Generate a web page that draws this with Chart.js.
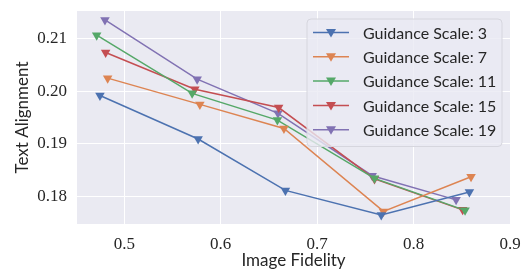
<!DOCTYPE html>
<html>
<head>
<meta charset="utf-8">
<script src="https://cdn.jsdelivr.net/npm/chart.js@4"></script>
<style>
  html, body { margin: 0; padding: 0; background: #fff; }
  #wrap { width: 526px; height: 273px; }
</style>
</head>
<body>
<div id="wrap"><canvas id="chart" width="526" height="273"></canvas></div>
<script>
// guidance scales and the measured (fidelity, alignment) points for each
var guidance = [3, 7, 11, 15, 19];
var fid_3  = [0.4748, 0.5766, 0.6671, 0.7665, 0.8579];
var ali_3  = [0.1992, 0.1909, 0.1811, 0.1764, 0.1808];
var fid_7  = [0.4828, 0.5784, 0.6656, 0.7688, 0.8596];
var ali_7  = [0.2025, 0.1975, 0.1929, 0.1771, 0.1837];
var fid_11 = [0.4714, 0.5704, 0.6588, 0.7595, 0.8534];
var ali_11 = [0.2107, 0.1996, 0.1945, 0.1834, 0.1773];
var fid_15 = [0.4807, 0.5732, 0.6601, 0.7595, 0.8509];
var ali_15 = [0.2074, 0.2004, 0.1969, 0.1833, 0.1774];
var fid_19 = [0.4800, 0.5756, 0.6594, 0.7571, 0.8441];
var ali_19 = [0.2136, 0.2023, 0.1958, 0.1839, 0.1793];

var xTicks = [0.5, 0.6, 0.7, 0.8, 0.9];
var yTicks = [0.18, 0.19, 0.20, 0.21];

var colors = ['#4C72B0', '#DD8452', '#55A868', '#C44E52', '#8172B3'];
var fids = [fid_3, fid_7, fid_11, fid_15, fid_19];
var alis = [ali_3, ali_7, ali_11, ali_15, ali_19];

var datasets = [];
for (var i = 0; i < guidance.length; i++) {
  var pts = [];
  for (var j = 0; j < fids[i].length; j++) pts.push({x: fids[i][j], y: alis[i][j]});
  datasets.push({
    label: 'Guidance Scale: ' + guidance[i],
    data: pts,
    showLine: true,
    borderColor: colors[i],
    backgroundColor: colors[i],
    borderWidth: 1.5,
    pointStyle: 'triangle',
    rotation: 180,
    pointRadius: 5.5,
    pointHoverRadius: 5.5,
    pointBorderWidth: 0
  });
}

// grey panel behind the plot
var panelBg = {
  id: 'panelBg',
  beforeDraw: function(chart) {
    var a = chart.chartArea, c = chart.ctx;
    c.save();
    c.fillStyle = '#EAEAF2';
    c.fillRect(a.left, a.top, a.right - a.left, a.bottom - a.top);
    c.restore();
  }
};

// matplotlib-like legend box in the upper right corner
var boxLegend = {
  id: 'boxLegend',
  afterDatasetsDraw: function(chart) {
    var a = chart.chartArea, c = chart.ctx;
    var w = 195, rowH = 24.3;
    var x0 = a.right - 8 - w, y0 = a.top + 8;
    var h = rowH * datasets.length + 6;
    c.save();
    c.beginPath();
    c.roundRect(x0, y0, w, h, 4);
    c.fillStyle = 'rgba(234,234,242,0.8)';
    c.fill();
    c.strokeStyle = '#d6d6de';
    c.lineWidth = 1;
    c.stroke();
    c.font = '16px Lato';
    c.textBaseline = 'middle';
    for (var k = 0; k < datasets.length; k++) {
      var yy = y0 + 13.5 + k * rowH;
      c.strokeStyle = colors[k];
      c.lineWidth = 1.5;
      c.beginPath();
      c.moveTo(x0 + 6, yy);
      c.lineTo(x0 + 42, yy);
      c.stroke();
      c.fillStyle = colors[k];
      c.beginPath();
      c.moveTo(x0 + 24 - 5, yy - 3.5);
      c.lineTo(x0 + 24 + 5, yy - 3.5);
      c.lineTo(x0 + 24, yy + 5);
      c.closePath();
      c.fill();
      c.fillStyle = '#262626';
      c.fillText(datasets[k].label, x0 + 56, yy + 1);
    }
    c.restore();
  }
};

var ctx = document.getElementById('chart').getContext('2d');
var myChart = new Chart(ctx, {
  type: 'scatter',
  data: { datasets: datasets },
  plugins: [panelBg, boxLegend],
  options: {
    responsive: false,
    animation: false,
    layout: { padding: { top: 11, right: 16, left: 0, bottom: 0 } },
    plugins: { legend: { display: false }, tooltip: { enabled: false } },
    scales: {
      x: {
        type: 'linear',
        min: 0.451,
        max: 0.9,
        afterBuildTicks: function(s) { s.ticks = xTicks.map(function(v) { return {value: v}; }); },
        afterFit: function(s) { s.height = 49; s.paddingLeft = 0; s.paddingRight = 0; },
        grid: { color: '#ffffff', lineWidth: 1, drawTicks: false },
        border: { display: false },
        ticks: {
          padding: 10,
          color: '#262626',
          font: { family: 'Liberation Serif', size: 17 },
          callback: function(v) { return v.toFixed(1); }
        },
        title: {
          display: true,
          text: 'Image Fidelity',
          color: '#262626',
          font: { family: 'Lato', size: 17 },
          padding: { top: 0, bottom: 2 }
        }
      },
      y: {
        type: 'linear',
        min: 0.1747,
        max: 0.2153,
        afterBuildTicks: function(s) { s.ticks = yTicks.map(function(v) { return {value: v}; }); },
        afterFit: function(s) { s.width = 77; s.paddingTop = 0; s.paddingBottom = 0; },
        grid: { color: '#ffffff', lineWidth: 1, drawTicks: false },
        border: { display: false },
        ticks: {
          padding: 10,
          color: '#262626',
          font: { family: 'Liberation Serif', size: 17 },
          callback: function(v) { return v.toFixed(2); }
        },
        title: {
          display: true,
          text: 'Text Alignment',
          color: '#262626',
          font: { family: 'Lato', size: 17 },
          padding: { top: 12, bottom: 0 }
        }
      }
    }
  }
});
</script>
</body>
</html>
